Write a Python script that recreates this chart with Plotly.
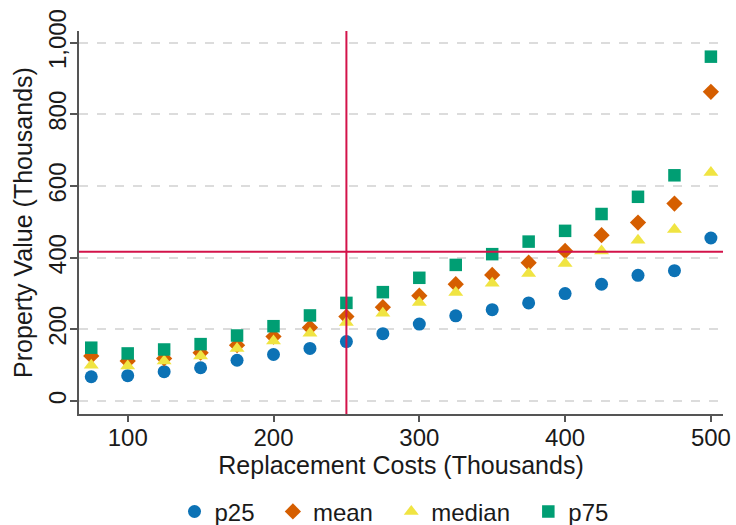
import plotly.graph_objects as go

# Replacement cost bins (thousands)
replacement_cost = [75, 100, 125, 150, 175, 200, 225, 250, 275, 300,
                    325, 350, 375, 400, 425, 450, 475, 500]

# Property value statistics per bin (thousands)
p25 = [68, 71, 82, 93, 114, 130, 147, 166, 188, 215,
       238, 255, 274, 300, 326, 351, 364, 455]
mean = [126, 112, 119, 135, 156, 180, 205, 236, 262, 294,
        326, 352, 386, 419, 463, 498, 551, 863]
median = [100, 98, 112, 126, 147, 168, 189, 219, 245, 275,
          303, 329, 356, 384, 419, 449, 479, 638]
p75 = [149, 133, 144, 159, 183, 209, 239, 274, 304, 344,
       380, 410, 445, 475, 522, 570, 630, 961]

# Reference lines
ref_cost = 250
ref_value = 417

x_ticks = [100, 200, 300, 400, 500]
y_ticks = [0, 200, 400, 600, 800, 1000]
y_tick_labels = ["0", "200", "400", "600", "800", "1,000"]

FONT = "Liberation Sans, Arial, sans-serif"
TEXT = "#1a1a1a"
AXIS = "#555555"
REF = "#D3134A"
PAD = "\u00a0\u00a0"  # extra breathing room between legend entries

series = [
    ("p25", p25, "circle", "#0C72B5", 13),
    ("mean", mean, "diamond", "#D55E00", 12.5),
    ("median", median, "triangle-up", "#F0E442", 13),
    ("p75", p75, "square", "#009E73", 12.5),
]

fig = go.Figure()
for name, vals, sym, col, size in series:
    fig.add_trace(go.Scatter(
        x=replacement_cost, y=vals, mode="markers", name=name + PAD,
        marker=dict(symbol=sym, color=col, size=size, line=dict(width=0)),
    ))

fig.add_shape(type="line", xref="x", yref="paper", x0=ref_cost, x1=ref_cost,
              y0=0, y1=1, line=dict(color=REF, width=2), layer="above")
fig.add_shape(type="line", xref="paper", yref="y", x0=0, x1=1,
              y0=ref_value, y1=ref_value, line=dict(color=REF, width=2), layer="above")

fig.update_layout(
    width=736, height=525,
    margin=dict(l=79, r=13, t=31, b=111, autoexpand=False),
    paper_bgcolor="white", plot_bgcolor="white",
    font=dict(family=FONT, size=24, color=TEXT),
    showlegend=True,
    legend=dict(orientation="h", x=0.5, xanchor="center",
                yref="container", y=0.025, yanchor="middle",
                font=dict(size=24, color=TEXT), itemwidth=30,
                bgcolor="rgba(0,0,0,0)"),
    xaxis=dict(
        range=[66.6, 508.3], tickvals=x_ticks, automargin=False,
        showgrid=False, zeroline=False,
        showline=True, linecolor=AXIS, linewidth=1.5,
        ticks="outside", ticklen=6, tickwidth=1.5, tickcolor=AXIS,
        ticklabelstandoff=-5,
        tickfont=dict(size=24, color=TEXT),
        title=dict(text="Replacement Costs (Thousands)",
                   font=dict(size=25, color=TEXT), standoff=4),
    ),
    yaxis=dict(
        range=[-36, 1032.6], tickvals=y_ticks, ticktext=y_tick_labels,
        tickangle=-90, automargin=False,
        showgrid=True, gridcolor="#DCDCDC", gridwidth=1.5, griddash="dash",
        zeroline=False,
        showline=True, linecolor=AXIS, linewidth=1.5,
        ticks="outside", ticklen=7, tickwidth=1.5, tickcolor=AXIS,
        ticklabelstandoff=-5,
        tickfont=dict(size=24, color=TEXT),
        title=dict(text="Property Value (Thousands)",
                   font=dict(size=25, color=TEXT), standoff=4),
    ),
)

fig.write_html("out.html")
